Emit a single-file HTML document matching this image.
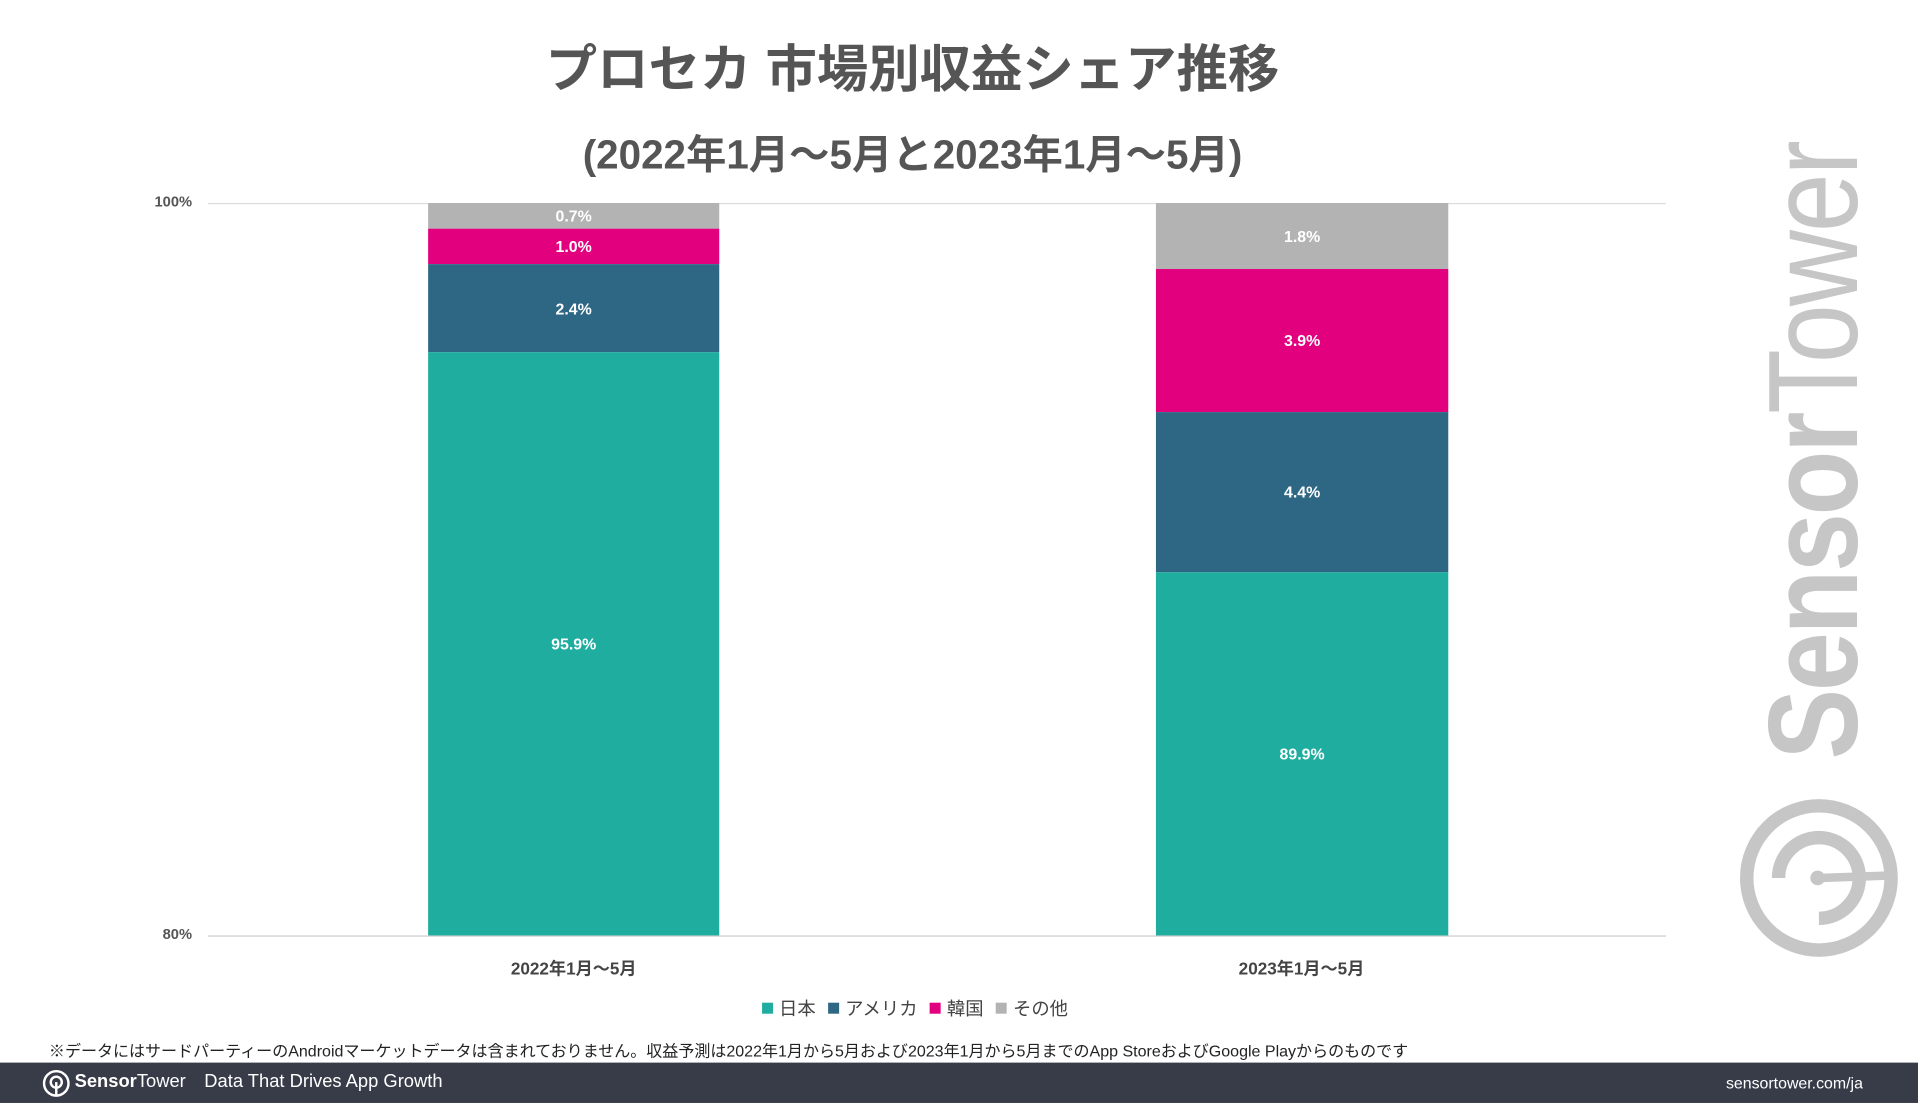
<!DOCTYPE html>
<html><head><meta charset="utf-8"><style>
html,body{margin:0;padding:0;background:#fff;width:1918px;height:1103px;overflow:hidden}
#c{position:absolute;left:0;top:0;width:1568px;height:902px;transform:scale(1.22321,1.2228);transform-origin:0 0;font-family:"Liberation Sans","Noto Sans CJK JP",sans-serif;color:#555}
.a{position:absolute}
.t{left:0;width:1492px;text-align:center;font-weight:bold}
.seg{position:absolute;left:0;width:100%;display:flex;align-items:center;justify-content:center;color:#fff;font-weight:bold;font-size:13px}
.bar{position:absolute;top:166px;height:599px;width:238px}
.yl{font-size:12px;font-weight:bold;color:#555;width:60px;text-align:right}
.xl{font-size:14px;font-weight:bold;color:#444;width:300px;text-align:center}
.lg{display:inline-flex;align-items:center;margin:0 5px}
.lg i{display:inline-block;width:9px;height:9px;margin-right:5px}
</style></head><body><div id="c">
<div class="a t" style="top:23px;font-size:42px;color:#555">プロセカ 市場別収益シェア推移</div>
<div class="a t" style="top:100px;font-size:33px;color:#555">(2022年1月～5月と2023年1月～5月)</div>
<div class="a" style="left:170px;top:166px;width:1192px;height:1px;background:#ddd"></div>
<div class="a" style="left:170px;top:765px;width:1192px;height:1px;background:#ccc"></div>
<div class="a yl" style="left:97px;top:158px">100%</div>
<div class="a yl" style="left:97px;top:757px">80%</div>
<div class="bar" style="left:350px">
<div class="seg" style="top:0;height:21px;background:#b3b3b3">0.7%</div>
<div class="seg" style="top:21px;height:29px;background:#e2007f">1.0%</div>
<div class="seg" style="top:50px;height:72px;background:#2e6784">2.4%</div>
<div class="seg" style="top:122px;height:477px;background:#1fad9f">95.9%</div>
</div>
<div class="bar" style="left:945px;width:239px">
<div class="seg" style="top:0;height:54px;background:#b3b3b3">1.8%</div>
<div class="seg" style="top:54px;height:117px;background:#e2007f">3.9%</div>
<div class="seg" style="top:171px;height:131px;background:#2e6784">4.4%</div>
<div class="seg" style="top:302px;height:297px;background:#1fad9f">89.9%</div>
</div>
<div class="a xl" style="left:319px;top:782px">2022年1月～5月</div>
<div class="a xl" style="left:914px;top:782px">2023年1月～5月</div>
<div class="a" style="left:0;width:1496px;top:814px;text-align:center;font-size:15px;color:#444">
<span class="lg"><i style="background:#1fad9f"></i>日本</span><span class="lg"><i style="background:#2e6784"></i>アメリカ</span><span class="lg"><i style="background:#e2007f"></i>韓国</span><span class="lg"><i style="background:#b3b3b3"></i>その他</span></div>
<div class="a" style="left:40px;top:849px;font-size:13.1px;color:#222;white-space:nowrap">※データにはサードパーティーのAndroidマーケットデータは含まれておりません。収益予測は2022年1月から5月および2023年1月から5月までのApp StoreおよびGoogle Playからのものです</div>
<div class="a" style="left:0;top:869px;width:1568px;height:33px;background:#373c48"></div>
<svg class="a" style="left:34px;top:874px" width="24" height="24" viewBox="0 0 24 24"><circle cx="12" cy="12" r="10" fill="none" stroke="#fff" stroke-width="2"/><circle cx="12" cy="11" r="4.5" fill="none" stroke="#fff" stroke-width="2"/><line x1="12" y1="11" x2="12" y2="22" stroke="#fff" stroke-width="2"/></svg>
<div class="a" style="left:61px;top:876px;font-size:15px;color:#fff;white-space:nowrap"><b>Sensor</b>Tower</div>
<div class="a" style="left:167px;top:876px;font-size:15px;color:#fff;white-space:nowrap">Data That Drives App Growth</div>
<div class="a" style="left:1380px;top:878px;width:143px;text-align:right;font-size:13px;color:#fff">sensortower.com/ja</div>
<div class="a" style="left:1483px;top:372px;width:0;height:0">
<div style="position:absolute;left:-300px;top:-60px;width:600px;text-align:center;transform:rotate(-90deg) scaleX(0.83);font-size:104px;line-height:120px;color:#c6c6c6;white-space:nowrap;letter-spacing:-2px"><b>Sensor</b>Tower</div></div>
<svg class="a" style="left:1420px;top:650px" width="136" height="136" viewBox="0 0 136 136"><circle cx="67" cy="68" r="59" fill="none" stroke="#c6c6c6" stroke-width="11"/><path d="M100 68 A33 33 0 1 0 67 101" fill="none" stroke="#c6c6c6" stroke-width="11" transform="rotate(90 67 68)"/><line x1="67" y1="68" x2="126" y2="66" stroke="#c6c6c6" stroke-width="7"/><circle cx="66" cy="68" r="6" fill="#c6c6c6"/></svg>
</div></body></html>
